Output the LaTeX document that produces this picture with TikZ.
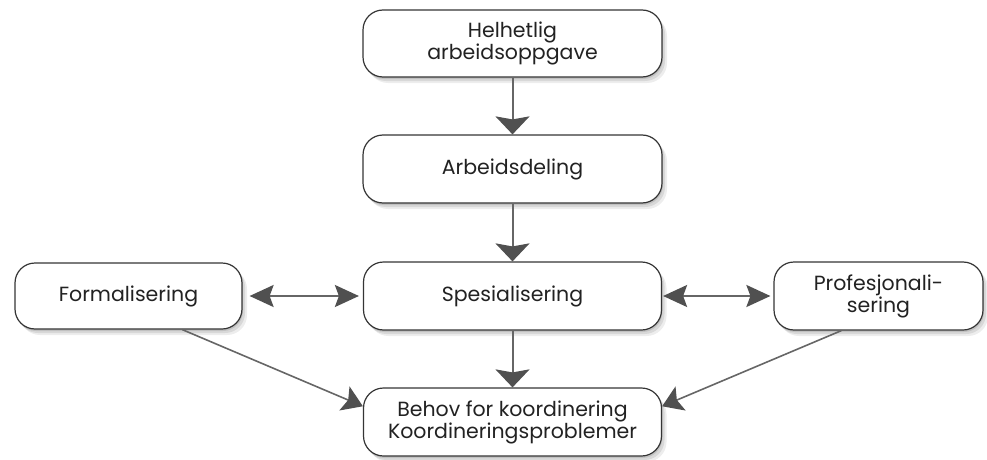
\documentclass[tikz,border=0pt]{standalone}
\usepackage{fontspec}
\setmainfont{Poppins}
\usetikzlibrary{arrows.meta,shadows}
\definecolor{linegray}{HTML}{666666}
\definecolor{headgray}{HTML}{505050}
\definecolor{boxline}{HTML}{353535}
\definecolor{txt}{HTML}{222222}
\tikzset{
  softshadow/.style={
    drop shadow={shadow xshift=1pt, shadow yshift=-2pt, fill=black, opacity=0.10},
    drop shadow={shadow xshift=3pt, shadow yshift=-4pt, fill=black, opacity=0.09},
    drop shadow={shadow xshift=5pt, shadow yshift=-6pt, fill=black, opacity=0.07}},
  box/.style={draw=boxline, line width=1.2pt, rounded corners=20pt, fill=white,
    align=center, inner sep=0pt, font=\fontsize{20.5}{22}\selectfont, text=txt,
    softshadow},
  conn/.style={draw=linegray, line width=2pt},
  vtip/.style={conn, -{Stealth[length=18pt, width=34pt, inset=3pt, fill=headgray, color=headgray]}},
  htip/.style={conn, {Stealth[length=24pt, width=22pt, inset=4pt, fill=headgray, color=headgray]}-{Stealth[length=24pt, width=22pt, inset=4pt, fill=headgray, color=headgray]}},
  dtip/.style={conn, line width=1.6pt, -{Stealth[length=20pt, width=26pt, inset=4pt, fill=headgray, color=headgray]}},
}
\begin{document}
\begin{tikzpicture}[x=1pt,y=1pt]
\useasboundingbox (0,0) rectangle (987,459);
% centers: y_tikz = 459 - y_px
\node[box, minimum width=299pt, minimum height=67pt] (H) at (512.5,415.5) {Helhetlig\\arbeidsoppgave};
\node[box, minimum width=299pt, minimum height=68pt] (A) at (512.5,290) {Arbeidsdeling};
\node[box, minimum width=298pt, minimum height=68pt] (S) at (512.5,163) {Spesialisering};
\node[box, minimum width=227pt, minimum height=66pt] (F) at (128.5,163) {Formalisering};
\node[box, minimum width=209pt, minimum height=68pt] (P) at (878.5,163) {Profesjonali-\\sering};
\node[box, minimum width=298pt, minimum height=68pt] (B) at (512.5,37) {Behov for koordinering\\Koordineringsproblemer};
\draw[vtip] (H.south) -- (A.north);
\draw[vtip] (A.south) -- (S.north);
\draw[vtip] (S.south) -- (B.north);
\draw[htip, shorten <=7pt, shorten >=4pt] (F.east) -- (S.west);
\draw[htip, shorten <=1pt, shorten >=3pt] (S.east) -- (P.west);
\draw[dtip] (F.-32) -- (B.174);
\draw[dtip] (P.223) -- (B.6);
\end{tikzpicture}
\end{document}
